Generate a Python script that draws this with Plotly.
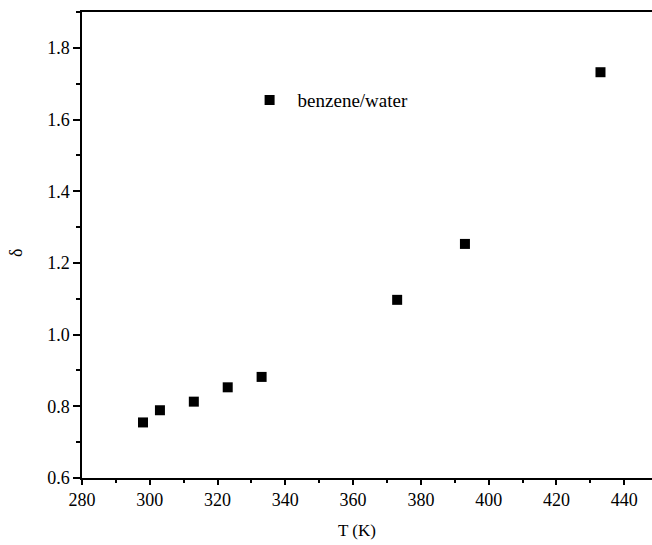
import plotly.graph_objects as go

# Temperature (K) and delta for the benzene/water system
temperature_k = [298, 303, 313, 323, 333, 373, 393, 433]
delta = [0.755, 0.789, 0.813, 0.853, 0.882, 1.097, 1.253, 1.732]
series_name = "benzene/water"

FONT = "Liberation Serif"
TICK_FONT = dict(family=FONT, size=18, color="black")

fig = go.Figure()
fig.add_trace(go.Scatter(
    x=temperature_k, y=delta, mode="markers", name=series_name,
    marker=dict(symbol="square", size=10, color="black"),
    showlegend=True,
))

fig.update_layout(
    template="none",
    width=652, height=545,
    margin=dict(l=82, r=0, t=12, b=67),
    plot_bgcolor="white", paper_bgcolor="white",
    font=dict(family=FONT, size=17, color="black"),
    xaxis=dict(
        range=[280, 448.2], dtick=20, tick0=280, tickmode="linear",
        showgrid=False, zeroline=False, tickfont=TICK_FONT,
        showline=True, linecolor="black", linewidth=1.5, mirror=True,
        ticks="outside", ticklen=5, tickcolor="black", tickwidth=1.5,
        minor=dict(ticks="outside", dtick=10, ticklen=3, tickcolor="black", tickwidth=1.5),
    ),
    yaxis=dict(
        range=[0.6, 1.9], dtick=0.2, tick0=0.6, tickmode="linear", tickformat=".1f",
        showgrid=False, zeroline=False, tickfont=TICK_FONT,
        showline=True, linecolor="black", linewidth=1.5,
        ticks="outside", ticklen=7, tickcolor="black", tickwidth=1.5,
        minor=dict(ticks="outside", dtick=0.1, ticklen=4, tickcolor="black", tickwidth=1.5),
    ),
    legend=dict(
        x=0.28, y=0.811, xanchor="left", yanchor="middle",
        itemwidth=46,
        bgcolor="rgba(0,0,0,0)", borderwidth=0,
        font=dict(family=FONT, size=19, color="black"),
    ),
    annotations=[
        dict(text="T (K)", xref="paper", yref="paper", x=0.5, y=0,
             xanchor="center", yanchor="top", xshift=-10, yshift=-41, showarrow=False,
             font=dict(family=FONT, size=17, color="black")),
        dict(text="δ", xref="paper", yref="paper", x=0, y=0.5,
             xanchor="center", yanchor="middle", xshift=-66, yshift=-8,
             showarrow=False, textangle=-90,
             font=dict(family=FONT, size=18, color="black")),
    ],
)

fig.write_html("out.html")
